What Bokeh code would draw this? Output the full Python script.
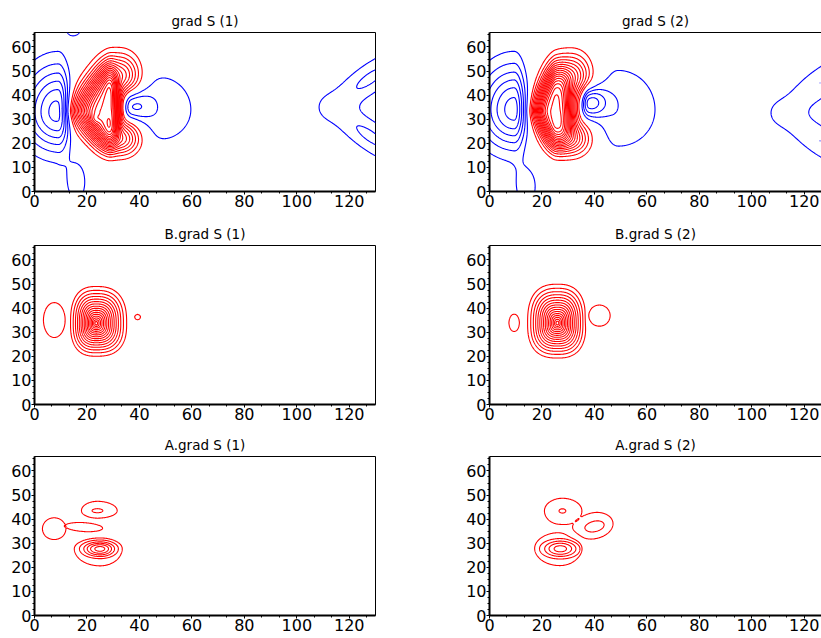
import numpy as np
from bokeh.plotting import figure
from bokeh.layouts import column, row
from bokeh.models import Range1d, SingleIntervalTicker, LinearAxis, FixedTicker
from bokeh.embed import file_html
from bokeh.resources import INLINE

# ---------------- data: field components ----------------
# per panel: centre x/y, spread left/right, spread down/up, amplitude, tilt (deg), profile
# profiles: g = gaussian, c = peaked cone, b = rounded compact bump,
#           p = paraboloid cap, q = flat-topped cap
G1_CX  = [28.0, 32.5, 32.5, 22.8, 9.0, 37.0, 47.0, 16.0, 15.0, 128.0, 128.0]
G1_CY  = [33.5, 48.0, 22.0, 30.0, 33.0, 35.5, 34.0, 4.0, 68.0, 47.0, 23.0]
G1_SXL = [9.4, 5.0, 5.0, 1.5, 9.0, 2.0, 6.0, 3.5, 2.5, 14.0, 14.0]
G1_SXR = [3.3, 5.0, 5.0, 1.5, 3.0, 5.0, 13.0, 3.5, 2.5, 14.0, 14.0]
G1_SYD = [10.6, 5.5, 4.5, 1.5, 10.8, 4.5, 13.0, 8.0, 3.0, 4.5, 4.5]
G1_SYU = [12.8, 6.0, 5.0, 1.5, 13.0, 5.0, 14.0, 8.0, 3.0, 4.5, 4.5]
G1_AMP = [17.0, 7.0, 7.0, 1.5, -6.5, -3.0, -1.6, -1.5, -1.8, -2.2, -2.2]
G1_ANG = [0, 0, 0, 0, 0, 0, 0, 0, 0, 38, -38]
G1_ML  = [1.5, 2, 2, 2, 2, 2, 2, 2, 2, 2, 2]
G1_MR  = [2, 2, 2, 2, 2, 2, 2, 2, 2, 2, 2]
G1_PW  = [3, 2, 2, 2, 2, 2, 2, 2, 2, 2, 2]
G1_KIND = ["g"] * 11

G2_CX  = [25.0, 31.5, 31.0, 9.4, 38.0, 49.0, 14.0, 126.0, 126.0]
G2_CY  = [33.5, 48.0, 22.0, 34.0, 37.0, 34.0, 2.0, 45.0, 21.0]
G2_SXL = [5.9, 5.0, 5.0, 9.0, 2.0, 6.0, 3.5, 14.0, 14.0]
G2_SXR = [5.2, 4.6, 4.6, 3.0, 4.5, 13.0, 3.5, 14.0, 14.0]
G2_SYD = [10.7, 5.5, 4.5, 11.0, 4.5, 14.0, 7.0, 4.5, 4.5]
G2_SYU = [13.0, 6.0, 5.0, 12.5, 4.5, 15.0, 7.0, 4.5, 4.5]
G2_AMP = [17.0, 6.5, 6.5, -6.5, -4.5, -1.8, -1.6, -2.0, -2.0]
G2_ANG = [0, 0, 0, 0, 0, 0, 0, 40, -38]
G2_ML  = [1.5, 2, 2, 2, 2, 2, 2, 2, 2]
G2_MR  = [2, 2, 2, 2, 2, 2, 2, 2, 2]
G2_PW  = [3, 2, 2, 2, 2, 2, 2, 2, 2]
G2_KIND = ["g"] * 9

B1_CX  = [23.5, 7.55, 39.3]
B1_CY  = [33.7, 35.05, 36.3]
B1_SXL = [11.5, 4.44, 1.18]
B1_SXR = [13.7, 4.44, 1.18]
B1_SYD = [16.1, 7.76, 1.18]
B1_SYU = [18.0, 7.76, 1.18]
B1_AMP = [17.0, 1.5, 1.5]
B1_ANG = [0, 0, 0]
B1_KIND = ["c", "q", "q"]

B2_CX  = [25.9, 9.4, 41.9, 37.4]
B2_CY  = [33.8, 33.9, 36.9, 36.0]
B2_SXL = [13.4, 2.14, 4.39, 0.8]
B2_SXR = [12.8, 2.14, 4.39, 0.8]
B2_SYD = [17.1, 3.86, 4.71, 3.0]
B2_SYU = [19.0, 3.86, 4.71, 3.0]
B2_AMP = [17.0, 1.5, 1.5, -0.4]
B2_ANG = [0, 0, 0, 0]
B2_KIND = ["c", "q", "q", "g"]

A1_CX  = [25.0, 25.0, 24.0, 24.0, 7.5, 18.8]
A1_CY  = [27.7, 27.7, 43.5, 43.5, 36.0, 36.7]
A1_SXL = [10.5, 10.8, 6.5, 4.6, 4.8, 7.7]
A1_SXR = [9.0, 9.6, 8.0, 4.6, 4.8, 7.7]
A1_SYD = [7.6, 5.6, 3.3, 1.9, 4.8, 2.0]
A1_SYU = [4.8, 5.0, 4.15, 1.9, 4.9, 2.0]
A1_AMP = [1.5, 5.0, 1.6, 0.5, 1.5, 1.5]
A1_ANG = [0, 0, 0, 0, 0, -4]
A1_KIND = ["q", "b", "q", "p", "q", "q"]

A2_CX  = [26.8, 27.0, 27.8, 27.8, 40.0, 40.2, 32.5]
A2_CY  = [27.9, 27.7, 43.4, 43.4, 37.2, 37.0, 33.3]
A2_SXL = [10.2, 11.3, 7.3, 2.9, 9.5, 9.0, 5.0]
A2_SXR = [8.8, 11.3, 7.9, 2.9, 7.6, 8.0, 5.0]
A2_SYD = [7.7, 6.0, 6.3, 2.0, 5.6, 4.8, 1.4]
A2_SYU = [7.0, 6.0, 5.6, 2.0, 5.8, 4.8, 1.4]
A2_AMP = [1.5, 4.0, 1.6, 0.5, 1.6, 0.5, -1.0]
A2_ANG = [0, 0, 0, 0, 16, 16, -35]
A2_KIND = ["q", "b", "q", "p", "q", "p", "g"]

TITLES = ["grad S (1)", "grad S (2)", "B.grad S (1)", "B.grad S (2)",
          "A.grad S (1)", "A.grad S (2)"]
LEVELS = [v for v in range(-10, 26) if v != 0]
X_MAX = 130
Y_MAX = 66

# ---------------- field evaluation ----------------
XS = np.linspace(0, X_MAX, 651)
YS = np.linspace(0, Y_MAX, 331)
XX, YY = np.meshgrid(XS, YS)


def field(cx, cy, sxl, sxr, syd, syu, amp, ang, kind, ml=None, mr=None, pw=None):
    z = np.zeros_like(XX)
    n = len(cx)
    ml = ml or [2] * n
    mr = mr or [2] * n
    pw = pw or [2] * n
    for i in range(n):
        t = np.radians(ang[i])
        dx = XX - cx[i]
        dy = YY - cy[i]
        u = dx * np.cos(t) + dy * np.sin(t)
        v = -dx * np.sin(t) + dy * np.cos(t)
        a = np.abs(u) / np.where(u < 0, sxl[i], sxr[i])
        b = np.abs(v) / np.where(v < 0, syd[i], syu[i])
        r2 = a * a + b * b
        k = kind[i]
        if k == "g":
            m = np.where(u < 0, ml[i], mr[i])
            rr = (a ** m + b ** m) ** (1.0 / m)
            z += amp[i] * np.exp(-0.5 * rr ** pw[i])
        elif k == "c":
            r = (a ** 2.6 + b ** 2.6) ** (1 / 2.6)
            z += amp[i] * np.clip(1 - r, 0, None) ** 1.5
        elif k == "b":
            z += amp[i] * np.clip(1 - r2, 0, None) ** 3
        elif k == "p":
            z += amp[i] * np.clip(1 - r2, 0, None)
        else:
            z += amp[i] * np.clip(1 - r2 ** 8, 0, None)
    return z


FIELDS = [
    field(G1_CX, G1_CY, G1_SXL, G1_SXR, G1_SYD, G1_SYU, G1_AMP, G1_ANG, G1_KIND,
          G1_ML, G1_MR, G1_PW),
    field(G2_CX, G2_CY, G2_SXL, G2_SXR, G2_SYD, G2_SYU, G2_AMP, G2_ANG, G2_KIND,
          G2_ML, G2_MR, G2_PW),
    field(B1_CX, B1_CY, B1_SXL, B1_SXR, B1_SYD, B1_SYU, B1_AMP, B1_ANG, B1_KIND),
    field(B2_CX, B2_CY, B2_SXL, B2_SXR, B2_SYD, B2_SYU, B2_AMP, B2_ANG, B2_KIND),
    field(A1_CX, A1_CY, A1_SXL, A1_SXR, A1_SYD, A1_SYU, A1_AMP, A1_ANG, A1_KIND),
    field(A2_CX, A2_CY, A2_SXL, A2_SXR, A2_SYD, A2_SYU, A2_AMP, A2_ANG, A2_KIND),
]

FONT = "DejaVu Sans"
# (top border, frame height, bottom border) per row
ROW_SIZES = [(32, 159, 29), (25, 159, 27), (25, 159, 22)]


def make_fig(idx):
    right = idx % 2 == 1
    top, fh, bottom = ROW_SIZES[idx // 2]
    width = 358 if right else 463
    x_end = 332 / (341 / X_MAX) if right else X_MAX
    p = figure(width=width, height=top + fh + bottom,
               x_range=Range1d(0, x_end), y_range=Range1d(0, Y_MAX),
               output_backend="svg", toolbar_location=None,
               min_border_left=26 if right else 34, min_border_right=0 if right else 88,
               min_border_top=top, min_border_bottom=bottom,
               title=TITLES[idx])
    p.title.align = "center"
    p.title.text_font = FONT
    p.title.text_font_size = "13.5px"
    p.title.text_font_style = "normal"
    p.title.text_color = "black"
    p.title.standoff = 7
    p.xgrid.visible = False
    p.ygrid.visible = False
    p.background_fill_color = "white"
    p.border_fill_color = "white"
    p.xaxis.ticker = SingleIntervalTicker(interval=20, num_minor_ticks=3)
    p.yaxis.ticker = SingleIntervalTicker(interval=10, num_minor_ticks=4)
    for ax in (p.xaxis, p.yaxis):
        ax.axis_line_width = 2
        ax.axis_line_color = "black"
        ax.major_tick_line_color = "black"
        ax.minor_tick_line_color = "black"
        ax.major_tick_in = 0
        ax.major_tick_out = 3
        ax.minor_tick_in = 0
        ax.minor_tick_out = 2
        ax.major_label_standoff = 0
        ax.major_label_text_font = FONT
        ax.major_label_text_font_size = "16px"
        ax.major_label_text_color = "black"
    if right:
        p.outline_line_color = None
        top_ax = LinearAxis(ticker=FixedTicker(ticks=[]), axis_line_color="black",
                            axis_line_width=1, major_tick_out=0, minor_tick_out=0,
                            major_label_text_font_size="0px")
        p.add_layout(top_ax, "above")
    else:
        p.outline_line_color = "black"
        p.outline_line_width = 1
    colors = ["#0000ff" if v < 0 else "#ff0000" for v in LEVELS]
    p.contour(XS, YS, FIELDS[idx], levels=LEVELS, line_color=colors, line_width=1.1)
    return p


figs = [make_fig(i) for i in range(6)]
layout = column(row(figs[0], figs[1]), row(figs[2], figs[3]), row(figs[4], figs[5]))
open("out.html", "w").write(file_html(layout, INLINE))
